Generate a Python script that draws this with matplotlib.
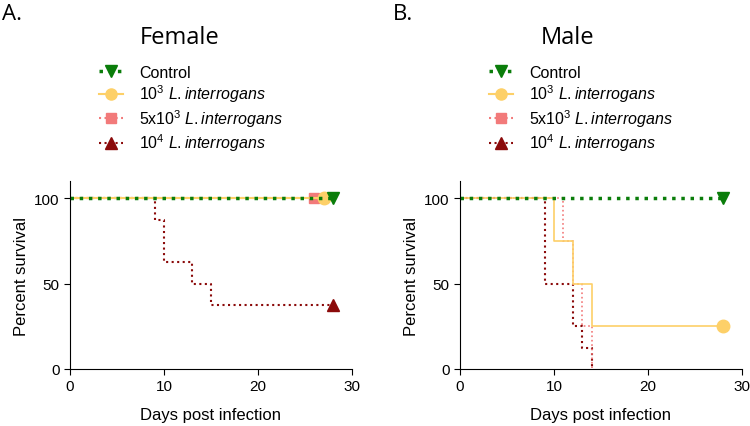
import matplotlib.pyplot as plt
from matplotlib.lines import Line2D

plt.rcParams['font.family'] = ['Liberation Sans', 'DejaVu Sans']
plt.rcParams['mathtext.fontset'] = 'custom'
plt.rcParams['mathtext.rm'] = 'Liberation Sans'
plt.rcParams['mathtext.it'] = 'Liberation Sans:italic'

# Kaplan-Meier steps, female
f_ctrl_t = [0, 28];  f_ctrl_s = [100, 100]
f_low_t = [0, 27];   f_low_s = [100, 100]
f_mid_t = [0, 26];   f_mid_s = [100, 100]
f_high_t = [0, 9, 10, 13, 15, 28]
f_high_s = [100, 87.5, 62.5, 50, 37.5, 37.5]

# male
m_ctrl_t = [0, 28];  m_ctrl_s = [100, 100]
m_low_t = [0, 10, 12, 14, 28]
m_low_s = [100, 75, 50, 25, 25]
m_mid_t = [0, 11, 12, 13, 14]
m_mid_s = [100, 75, 50, 25, 0]
m_high_t = [0, 9, 12, 13, 14]
m_high_s = [100, 50, 25, 12.5, 0]

labels = ['Control', r'10$^3$ $\it{L. interrogans}$',
          r'5x10$^3$ $\it{L. interrogans}$', r'10$^4$ $\it{L. interrogans}$']
green = '#0a7d0a'
yellow = '#fdd068'
pink = '#f27a7a'
dred = '#8b0a0a'

fig = plt.figure(figsize=(7.5, 4.27), dpi=100)
axA = fig.add_axes([0.0933, 0.1335, 0.376, 0.44])
axB = fig.add_axes([0.6133, 0.1335, 0.376, 0.44])


def draw(ax, data):
    for t, s, c, ls, lw, mk, ms, show in data:
        ax.step(t, s, where='post', color=c, ls=ls, lw=lw)
        if show:
            ax.plot(t[-1], s[-1], marker=mk, color=c, ms=ms, ls='none', clip_on=False)
    ax.set_xlim(0, 30)
    ax.set_ylim(0, 110)
    ax.set_xticks([0, 10, 20, 30])
    ax.set_yticks([0, 50, 100])
    ax.spines['top'].set_visible(False)
    ax.spines['right'].set_visible(False)
    ax.tick_params(labelsize=11, length=4)
    ax.set_xlabel('Days post infection', fontsize=12, labelpad=10)
    ax.set_ylabel('Percent survival', fontsize=12)


draw(axA, [
    (f_high_t, f_high_s, dred, ':', 1.5, '^', 8, True),
    (f_mid_t, f_mid_s, pink, ':', 1.5, 's', 7, True),
    (f_low_t, f_low_s, yellow, '-', 1.5, 'o', 9, True),
    (f_ctrl_t, f_ctrl_s, green, ':', 2.5, 'v', 9, True),
])
draw(axB, [
    (m_high_t, m_high_s, dred, ':', 1.5, '^', 8, False),
    (m_mid_t, m_mid_s, pink, ':', 1.2, 's', 7, False),
    (m_low_t, m_low_s, yellow, '-', 1.2, 'o', 9, True),
    (m_ctrl_t, m_ctrl_s, green, ':', 2.5, 'v', 9, True),
])

handles = [
    Line2D([], [], color=green, ls=':', lw=2.5, marker='v', ms=8),
    Line2D([], [], color=yellow, ls='-', lw=1.5, marker='o', ms=8),
    Line2D([], [], color=pink, ls=':', lw=1.5, marker='s', ms=7),
    Line2D([], [], color=dred, ls=':', lw=1.5, marker='^', ms=8),
]
for x0 in [0.113, 0.633]:
    fig.legend(handles, labels, loc='upper left', bbox_to_anchor=(x0, 0.88),
               frameon=False, fontsize=11.5, handlelength=1.5,
               labelspacing=0.18, handletextpad=1.0)

fig.text(0.24, 0.91, 'Female', fontsize=17, ha='center', va='center', family='Open Sans')
fig.text(0.757, 0.91, 'Male', fontsize=17, ha='center', va='center', family='Open Sans')
fig.text(0.003, 0.965, 'A.', fontsize=16, va='center', family='Open Sans')
fig.text(0.524, 0.965, 'B.', fontsize=16, va='center', family='Open Sans')

fig.savefig('out.png', dpi=100)
